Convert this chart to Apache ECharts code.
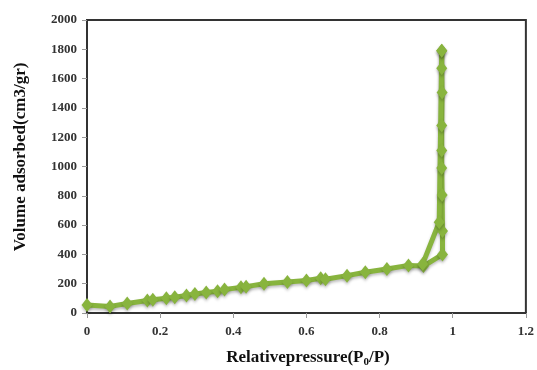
<!DOCTYPE html>
<html><head><meta charset="utf-8">
<script src="https://cdn.jsdelivr.net/npm/echarts@6/dist/echarts.min.js"></script>
<style>html,body{margin:0;padding:0;background:#fff}#c{width:537px;height:370px}</style>
</head><body><div id="c"></div>
<script>
// Adsorption branch
var adsX = [0, 0.063, 0.11, 0.165, 0.18, 0.217, 0.24, 0.272, 0.295, 0.326, 0.357, 0.376, 0.421, 0.435, 0.484, 0.548, 0.6, 0.639, 0.652, 0.711, 0.761, 0.82, 0.879, 0.92, 0.972, 0.972, 0.971, 0.97, 0.97, 0.97, 0.971, 0.97, 0.97];
var adsY = [55, 45, 65, 85, 90, 100, 108, 120, 130, 140, 148, 160, 175, 180, 200, 212, 222, 237, 230, 255, 278, 300, 325, 320, 400, 560, 805, 990, 1110, 1280, 1505, 1670, 1790];
// Desorption branch
var desX = [0.97, 0.963, 0.918];
var desY = [1790, 620, 335];
var xTicks = ['0', '0.2', '0.4', '0.6', '0.8', '1', '1.2'];
var yTitle = 'Volume adsorbed(cm3/gr)';

function pairs(xs, ys) { return xs.map(function (x, i) { return [x, ys[i]]; }); }

var green = '#88b43e';
var chart = echarts.init(document.getElementById('c'), null, { renderer: 'canvas' });
var lab = { color: '#333', fontFamily: 'Liberation Serif', fontSize: 13, fontWeight: 'bold' };
var shadow = { shadowColor: 'rgba(0,0,0,0.25)', shadowBlur: 3, shadowOffsetY: 2 };
var seriesStyle = {
  type: 'line', symbol: 'diamond', symbolSize: [11, 14], color: green,
  lineStyle: Object.assign({ width: 5, color: green }, shadow),
  itemStyle: Object.assign({ color: green }, shadow),
  animation: false, z: 3
};
chart.setOption({
  animation: false,
  grid: { left: 87, right: 9, top: 20, bottom: 57, show: true, borderColor: '#333', borderWidth: 2, backgroundColor: '#fff' },
  xAxis: {
    type: 'value', min: 0, max: 1.2, interval: 0.2,
    axisLine: { show: true, lineStyle: { color: '#333', width: 2 } },
    axisTick: { show: true, length: 5, lineStyle: { color: '#999' } },
    splitLine: { show: false },
    axisLabel: Object.assign({ margin: 12, formatter: function (v) { return xTicks[Math.round(v / 0.2)]; } }, lab)
  },
  yAxis: {
    type: 'value', min: 0, max: 2000, interval: 200,
    axisLine: { show: true, lineStyle: { color: '#333', width: 2 } },
    axisTick: { show: true, length: 5, lineStyle: { color: '#999' } },
    splitLine: { show: false },
    axisLabel: Object.assign({ margin: 10, formatter: function (v) { return String(v); } }, lab)
  },
  graphic: [
    { type: 'text', x: 308, y: 358, style: {
      text: 'Relativepressure(P{s|0}/P)', rich: { s: { fontSize: 11, fontFamily: 'Liberation Serif', fontWeight: 'bold', fill: '#111', padding: [8, 0, 0, 0] } },
      fontFamily: 'Liberation Serif', fontWeight: 'bold', fontSize: 17, fill: '#111', align: 'center', verticalAlign: 'middle' } },
    { type: 'text', x: 21, y: 157, rotation: Math.PI / 2, style: {
      text: yTitle, fontFamily: 'Liberation Serif', fontWeight: 'bold', fontSize: 17, fill: '#111', align: 'center', verticalAlign: 'middle' } }
  ],
  series: [
    Object.assign({ name: 'Adsorption', data: pairs(adsX, adsY) }, seriesStyle),
    Object.assign({ name: 'Desorption', data: pairs(desX, desY) }, seriesStyle)
  ]
});
</script></body></html>
